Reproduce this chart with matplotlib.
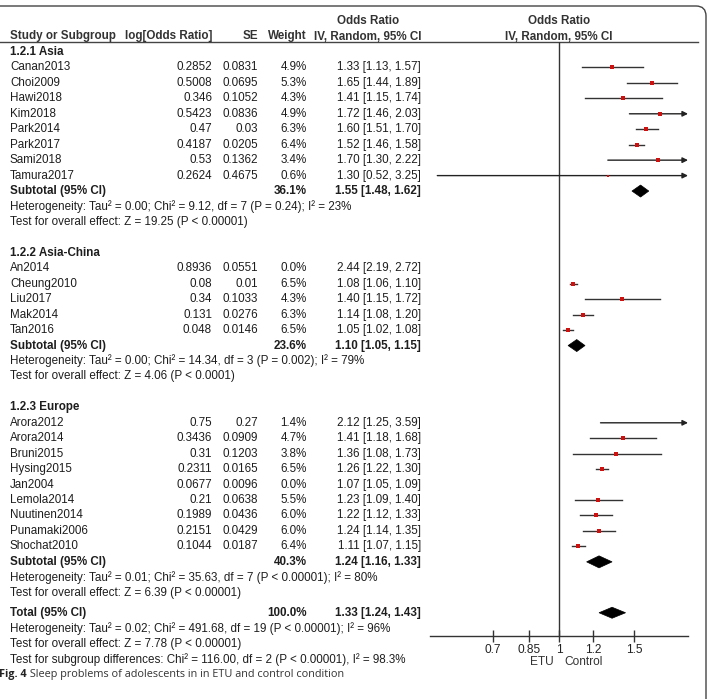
import numpy as np
import matplotlib.pyplot as plt
from matplotlib.patches import FancyBboxPatch, Polygon
from matplotlib.ticker import NullLocator

plt.rcParams['font.family'] = ['Liberation Sans', 'DejaVu Sans']

# ---------------- data ----------------
asia_names = ['Canan2013', 'Choi2009', 'Hawi2018', 'Kim2018', 'Park2014', 'Park2017', 'Sami2018', 'Tamura2017']
asia_logor = [0.2852, 0.5008, 0.346, 0.5423, 0.47, 0.4187, 0.53, 0.2624]
asia_se = [0.0831, 0.0695, 0.1052, 0.0836, 0.03, 0.0205, 0.1362, 0.4675]
asia_w = [4.9, 5.3, 4.3, 4.9, 6.3, 6.4, 3.4, 0.6]
asia_or = [1.33, 1.65, 1.41, 1.72, 1.60, 1.52, 1.70, 1.30]
asia_lo = [1.13, 1.44, 1.15, 1.46, 1.51, 1.46, 1.30, 0.52]
asia_hi = [1.57, 1.89, 1.74, 2.03, 1.70, 1.58, 2.22, 3.25]
asia_sub = [36.1, 1.55, 1.48, 1.62]
asia_het = 'Heterogeneity: Tau\u00b2 = 0.00; Chi\u00b2 = 9.12, df = 7 (P = 0.24); I\u00b2 = 23%'
asia_test = 'Test for overall effect: Z = 19.25 (P < 0.00001)'

china_names = ['An2014', 'Cheung2010', 'Liu2017', 'Mak2014', 'Tan2016']
china_logor = [0.8936, 0.08, 0.34, 0.131, 0.048]
china_se = [0.0551, 0.01, 0.1033, 0.0276, 0.0146]
china_w = [0.0, 6.5, 4.3, 6.3, 6.5]
china_or = [2.44, 1.08, 1.40, 1.14, 1.05]
china_lo = [2.19, 1.06, 1.15, 1.08, 1.02]
china_hi = [2.72, 1.10, 1.72, 1.20, 1.08]
china_sub = [23.6, 1.10, 1.05, 1.15]
china_het = 'Heterogeneity: Tau\u00b2 = 0.00; Chi\u00b2 = 14.34, df = 3 (P = 0.002); I\u00b2 = 79%'
china_test = 'Test for overall effect: Z = 4.06 (P < 0.0001)'

eu_names = ['Arora2012', 'Arora2014', 'Bruni2015', 'Hysing2015', 'Jan2004', 'Lemola2014',
            'Nuutinen2014', 'Punamaki2006', 'Shochat2010']
eu_logor = [0.75, 0.3436, 0.31, 0.2311, 0.0677, 0.21, 0.1989, 0.2151, 0.1044]
eu_se = [0.27, 0.0909, 0.1203, 0.0165, 0.0096, 0.0638, 0.0436, 0.0429, 0.0187]
eu_w = [1.4, 4.7, 3.8, 6.5, 0.0, 5.5, 6.0, 6.0, 6.4]
eu_or = [2.12, 1.41, 1.36, 1.26, 1.07, 1.23, 1.22, 1.24, 1.11]
eu_lo = [1.25, 1.18, 1.08, 1.22, 1.05, 1.09, 1.12, 1.14, 1.07]
eu_hi = [3.59, 1.68, 1.73, 1.30, 1.09, 1.40, 1.33, 1.35, 1.15]
eu_sub = [40.3, 1.24, 1.16, 1.33]
eu_het = 'Heterogeneity: Tau\u00b2 = 0.01; Chi\u00b2 = 35.63, df = 7 (P < 0.00001); I\u00b2 = 80%'
eu_test = 'Test for overall effect: Z = 6.39 (P < 0.00001)'

total = [100.0, 1.33, 1.24, 1.43]
total_het = 'Heterogeneity: Tau\u00b2 = 0.02; Chi\u00b2 = 491.68, df = 19 (P < 0.00001); I\u00b2 = 96%'
total_test = 'Test for overall effect: Z = 7.78 (P < 0.00001)'
subgroup_test = 'Test for subgroup differences: Chi\u00b2 = 116.00, df = 2 (P < 0.00001), I\u00b2 = 98.3%'

ticks = [0.7, 0.85, 1, 1.2, 1.5]
tick_labels = ['0.7', '0.85', '1', '1.2', '1.5']

groups = [
    ('1.2.1 Asia', asia_names, asia_logor, asia_se, asia_w, asia_or, asia_lo, asia_hi, asia_sub, asia_het, asia_test),
    ('1.2.2 Asia-China', china_names, china_logor, china_se, china_w, china_or, china_lo, china_hi, china_sub, china_het, china_test),
    ('1.2.3 Europe', eu_names, eu_logor, eu_se, eu_w, eu_or, eu_lo, eu_hi, eu_sub, eu_het, eu_test),
]

# ---------------- layout ----------------
W, H = 709, 699
fig = plt.figure(figsize=(W / 100, H / 100), dpi=100)
ax = fig.add_axes([0, 0, 1, 1])
ax.set_xlim(0, W)
ax.set_ylim(H, 0)
ax.axis('off')

# forest panel, shares pixel rows with the table
xl, xr, ytop, ybot = 430, 688, 42, 636
fax = fig.add_axes([xl / W, (H - ybot) / H, (xr - xl) / W, (ybot - ytop) / H])
fax.set_xscale('log')
fax.set_xlim(0.5, 2)
fax.set_ylim(ybot, ytop)
fax.patch.set_alpha(0)
for s in ['top', 'left', 'right']:
    fax.spines[s].set_visible(False)
fax.spines['bottom'].set_color('#333333')
fax.spines['bottom'].set_linewidth(1.0)
fax.set_yticks([])
fax.set_xticks(ticks)
fax.set_xticklabels(tick_labels)
fax.xaxis.set_minor_locator(NullLocator())
fax.tick_params(axis='x', direction='inout', length=8, width=1, color='#333333',
                labelsize=8.6, labelcolor='#222222', pad=2)
fax.axvline(1, color='#333333', lw=1.0)

txt = '#1e1e1e'
fs = 8.4
c_name, c_log, c_se, c_w, c_ci, c_mid = 10, 212, 258, 307, 421, 368

# frame and header rule
ax.add_patch(FancyBboxPatch((-30, 6), 736, 800, boxstyle='round,pad=0,rounding_size=10',
                            fc='none', ec='#444444', lw=1.0, clip_on=False))
ax.plot([0, 698], [42, 42], color='#444444', lw=1.0)

# column headers
hdr = dict(fontsize=fs, fontweight='bold', color='#333333', va='center')
ax.text(c_name, 36, 'Study or Subgroup', ha='left', **hdr)
ax.text(c_log, 36, 'log[Odds Ratio]', ha='right', **hdr)
ax.text(c_se, 36, 'SE', ha='right', **hdr)
ax.text(c_w, 36, 'Weight', ha='right', **hdr)
ax.text(c_mid, 21, 'Odds Ratio', ha='center', **hdr)
ax.text(c_mid, 37, 'IV, Random, 95% CI', ha='center', **hdr)
ax.text(559, 21, 'Odds Ratio', ha='center', **hdr)
ax.text(559, 37, 'IV, Random, 95% CI', ha='center', **hdr)


def ci_str(o, l, h):
    return '%.2f [%.2f, %.2f]' % (o, l, h)


def diamond(o, l, h, y, half=6):
    fax.add_patch(Polygon([(l, y), (o, y - half), (h, y), (o, y + half)], closed=True,
                          fc='black', ec='black', lw=0.5))


step = 15.45
y = 52
norm = dict(fontsize=fs, color=txt, va='center')
bold = dict(fontsize=fs, color=txt, va='center', fontweight='bold')
for (title, names, logor, se, w, ors, lo, hi, sub, het, test) in groups:
    ax.text(c_name, y, title, ha='left', **bold)
    y += step
    for i in range(len(names)):
        ax.text(c_name, y, names[i], ha='left', **norm)
        ax.text(c_log, y, str(logor[i]), ha='right', **norm)
        ax.text(c_se, y, str(se[i]), ha='right', **norm)
        ax.text(c_w, y, '%.1f%%' % w[i], ha='right', **norm)
        ax.text(c_ci, y, ci_str(ors[i], lo[i], hi[i]), ha='right', **norm)
        if w[i] > 0 and lo[i] < 2:
            l = max(lo[i], 0.5)
            if hi[i] > 2:
                fax.annotate('', xy=(2, y), xytext=(l, y),
                             arrowprops=dict(arrowstyle='-|>', color='#222222', lw=1.0,
                                             mutation_scale=8, shrinkA=0, shrinkB=0))
            else:
                fax.plot([l, hi[i]], [y, y], color='#333333', lw=1.0)
            if 0.5 <= ors[i] <= 2:
                fax.plot(ors[i], y, 's', color='#cc1111', mew=0,
                         ms=1.5 + 0.22 * w[i], zorder=3)
        y += step
    ax.text(c_name, y, 'Subtotal (95% CI)', ha='left', **bold)
    ax.text(c_w, y, '%.1f%%' % sub[0], ha='right', **bold)
    ax.text(c_ci, y, ci_str(sub[1], sub[2], sub[3]), ha='right', **bold)
    diamond(sub[1], sub[2], sub[3], y)
    y += step
    ax.text(c_name, y, het, ha='left', **norm)
    y += step
    ax.text(c_name, y, test, ha='left', **norm)
    y += 2 * step

# overall
y = y - 2 * step + 20
ax.text(c_name, y, 'Total (95% CI)', ha='left', **bold)
ax.text(c_w, y, '%.1f%%' % total[0], ha='right', **bold)
ax.text(c_ci, y, ci_str(total[1], total[2], total[3]), ha='right', **bold)
diamond(total[1], total[2], total[3], y, half=5.5)
y += step
ax.text(c_name, y, total_het, ha='left', **norm)
y += step
ax.text(c_name, y, total_test, ha='left', **norm)
y += step
ax.text(c_name, y, subgroup_test, ha='left', **norm)

# favours labels
fax.text(0.97, 662, 'ETU', ha='right', va='center', fontsize=8.6, color='#333333', clip_on=False)
fax.text(1.03, 662, 'Control', ha='left', va='center', fontsize=8.6, color='#333333', clip_on=False)

# caption
cap = ax.text(-1, 675, 'Fig. 4', ha='left', va='center', fontsize=7.8, fontweight='bold',
              family=['Open Sans', 'DejaVu Sans'], color='#222222')
ax.annotate(' Sleep problems of adolescents in in ETU and control condition', xy=(1, 0),
            xycoords=cap, va='bottom', ha='left', fontsize=7.8,
            family=['Open Sans', 'DejaVu Sans'], color='#333333')

fig.savefig('out.png', dpi=100)
